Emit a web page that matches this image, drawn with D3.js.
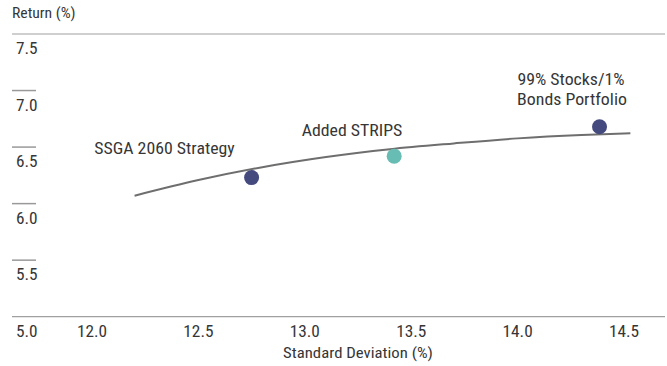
<!DOCTYPE html>
<html>
<head>
<meta charset="utf-8">
<script src="https://cdn.jsdelivr.net/npm/d3@7"></script>
<style>
  html, body { margin: 0; padding: 0; background: #fff; }
  svg { display: block; }
  text { font-family: "Liberation Sans Narrow", "Roboto Condensed", Roboto, sans-serif; fill: #363636; }
</style>
</head>
<body>
<svg id="chart" width="667" height="366"></svg>
<script>
// Efficient frontier: standard deviation (%) vs return (%)
const frontierStd = [12.20, 12.50, 12.80, 13.10, 13.40, 13.70, 14.00, 14.30, 14.53];
const frontierRet = [6.070, 6.208, 6.322, 6.412, 6.481, 6.532, 6.577, 6.607, 6.622];

// Portfolios plotted on the frontier chart
const portfolioNames = ["SSGA 2060 Strategy", "Added STRIPS", "99% Stocks/1% Bonds Portfolio"];
const portfolioStd = [12.75, 13.42, 14.385];
const portfolioRet = [6.23, 6.42, 6.68];

const xTicks = [12.0, 12.5, 13.0, 13.5, 14.0, 14.5];
const yTicks = [5.0, 5.5, 6.0, 6.5, 7.0, 7.5];

const svg = d3.select("#chart");
const x = d3.scaleLinear().domain([12, 14.5]).range([92, 624]);
const y = d3.scaleLinear().domain([5, 7.5]).range([316.7, 34]);
const frameLeft = 12, frameRight = 665;

// Text helper: slightly widened narrow face
function label(px, py, str, size, anchor, sx = 1.08) {
  return svg.append("text")
    .attr("transform", `translate(${px},${py}) scale(${sx},1)`)
    .attr("text-anchor", anchor || "start")
    .style("font-size", size + "px")
    .text(str);
}

// Y axis title
label(12, 18, "Return (%)", 14.5, "start");

// Y ticks: full-width rules at the extremes, short marks in between
yTicks.forEach((t, i) => {
  const full = (i === 0 || i === yTicks.length - 1);
  svg.append("line")
    .attr("x1", frameLeft).attr("x2", full ? frameRight : 36)
    .attr("y1", y(t)).attr("y2", y(t))
    .attr("stroke", full ? "#a0a0a0" : "#999").attr("stroke-width", full ? 1.2 : 1.5);
  label(16, y(t) + 20, d3.format(".1f")(t), 16, "start");
});

// X tick labels
xTicks.forEach(t => label(x(t), y(5) + 20, d3.format(".1f")(t), 16, "middle"));

// X axis title
label(358, 358, "Standard Deviation (%)", 15.5, "middle");

// Frontier curve
const line = d3.line().x(d => x(d[0])).y(d => y(d[1])).curve(d3.curveMonotoneX);
svg.append("path").datum(d3.zip(frontierStd, frontierRet))
  .attr("d", line).attr("fill", "none")
  .attr("stroke", "#6e6e6e").attr("stroke-width", 2);

// Portfolio markers
const colors = ["#454a7e", "#67bdb3", "#454a7e"];
svg.selectAll("circle.pt").data(portfolioStd).join("circle").attr("class", "pt")
  .attr("cx", d => x(d)).attr("cy", (d, i) => y(portfolioRet[i]))
  .attr("r", 7.5).attr("fill", (d, i) => colors[i]);

// Point labels
label(164.5, 153.5, portfolioNames[0], 16.5, "middle");
label(352, 136, portfolioNames[1], 16.5, "middle");
label(571, 85, "99% Stocks/1%", 16.5, "middle");
label(572, 105, "Bonds Portfolio", 16.5, "middle");
</script>
</body>
</html>
